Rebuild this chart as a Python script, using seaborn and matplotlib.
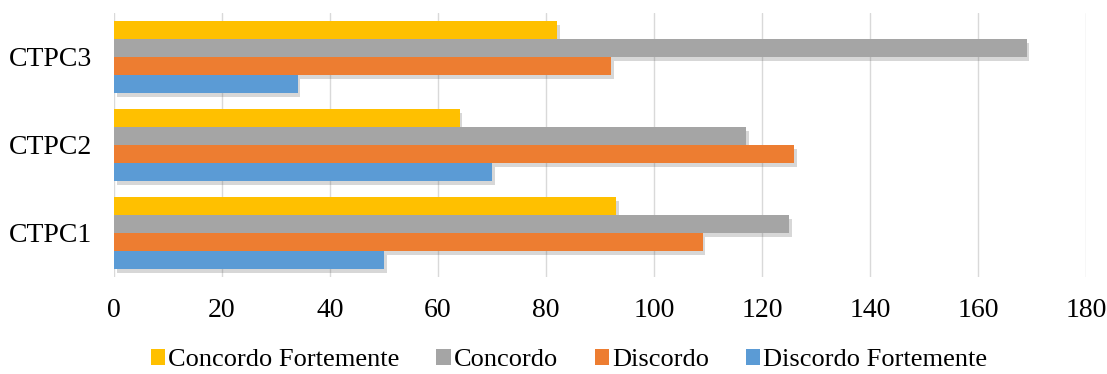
import matplotlib
matplotlib.use("Agg")
import matplotlib.pyplot as plt
import matplotlib.patheffects as pe
from matplotlib.patches import Patch
import seaborn as sns
import pandas as pd

categories = ["CTPC3", "CTPC2", "CTPC1"]
series = ["Concordo Fortemente", "Concordo", "Discordo", "Discordo Fortemente"]
concordo_fortemente = [82, 64, 93]
concordo = [169, 117, 125]
discordo = [92, 126, 109]
discordo_fortemente = [34, 70, 50]
x_ticks = [0, 20, 40, 60, 80, 100, 120, 140, 160, 180]
colors = ["#FFC000", "#A5A5A5", "#ED7D31", "#5B9BD5"]

rows = []
for s, vals in zip(series, [concordo_fortemente, concordo, discordo, discordo_fortemente]):
    for c, v in zip(categories, vals):
        rows.append({"cat": c, "series": s, "value": v})
df = pd.DataFrame(rows)

sns.set_theme(style="white")
plt.rcParams["font.family"] = ["Liberation Serif", "DejaVu Serif"]
plt.rcParams["text.color"] = "black"

fig = plt.figure(figsize=(11.07, 3.74), dpi=100)
ax = fig.add_axes([114/1107, 1-277/374, (1086-114)/1107, (277-13)/374])
sns.barplot(data=df, y="cat", x="value", hue="series", order=categories,
            hue_order=series, palette=colors, orient="h", width=0.82,
            ax=ax, legend=False, saturation=1)
for p in ax.patches:
    p.set_path_effects([pe.SimplePatchShadow(offset=(2, -3), alpha=0.25, shadow_rgbFace="#606060"), pe.Normal()])
    p.set_edgecolor("none")

ax.set_xlim(0, 180)
ax.set_ylim(2.5, -0.5)
ax.set_xticks(x_ticks)
ax.set_xticklabels([str(t) for t in x_ticks])
ax.grid(axis="x", color="#D9D9D9", linewidth=1)
ax.set_axisbelow(True)
for s in ax.spines.values():
    s.set_visible(False)
ax.tick_params(axis="x", length=0, pad=15, labelsize=20, colors="black")
ax.tick_params(axis="y", length=0, pad=16, labelsize=20, colors="black")
ax.set_xlabel("")
ax.set_ylabel("")

handles = [Patch(facecolor=c, edgecolor="none") for c in colors]
fig.legend(handles, series, loc="center", bbox_to_anchor=(0.514, 1-360/374), ncol=4,
           frameon=False, fontsize=19, handlelength=0.55, handleheight=0.55,
           handletextpad=0.1, columnspacing=1.4, labelcolor="black")

fig.savefig("out.png", dpi=100)
